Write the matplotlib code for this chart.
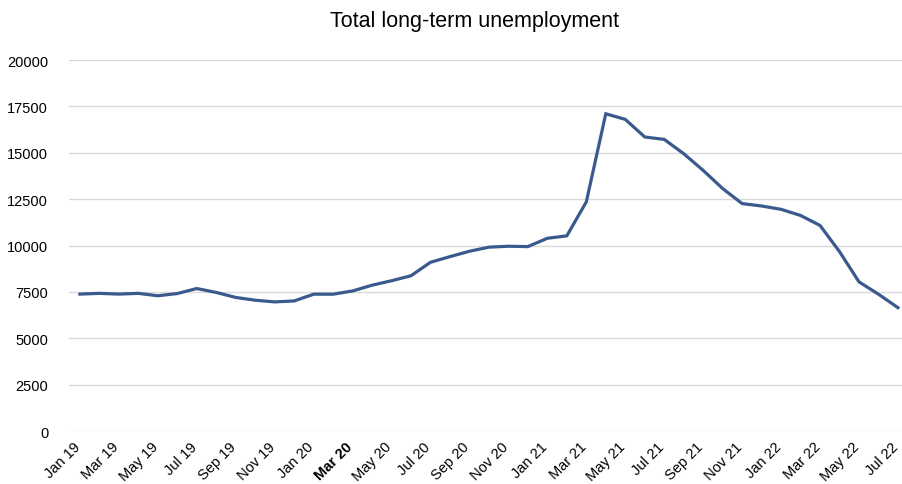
import matplotlib
matplotlib.use('Agg')
import matplotlib.pyplot as plt
from matplotlib.transforms import ScaledTranslation

plt.rcParams['font.family'] = ['Liberation Sans', 'DejaVu Sans']

# monthly totals, Jan 2019 .. Jul 2022
months = ['Jan', 'Feb', 'Mar', 'Apr', 'May', 'Jun',
          'Jul', 'Aug', 'Sep', 'Oct', 'Nov', 'Dec']
labels = [f'{m} {y}' for y in ('19', '20', '21', '22') for m in months][:43]
values = [7380, 7420, 7380, 7420, 7290, 7410, 7680, 7470, 7200, 7050, 6960, 7010,
          7375, 7375, 7550, 7860, 8100, 8370, 9095, 9400, 9690, 9910, 9960, 9940,
          10390, 10520, 12350, 17100, 16800, 15850, 15720, 14950, 14050, 13070, 12260, 12130,
          11950, 11620, 11080, 9670, 8040, 7375, 6650]
highlight = 'Mar 20'

fig = plt.figure(figsize=(9.03, 4.85), dpi=100)
ax = fig.add_axes([69 / 903, 1 - 432 / 485, 834 / 903, 371 / 485])

x = list(range(len(values)))
ax.plot(x, values, color='#3A5A8E', linewidth=2.3, solid_joinstyle='miter')

ax.set_xlim(-0.56, 42.26)
ax.set_ylim(0, 20000)
ax.set_yticks(range(0, 20001, 2500))
ax.grid(axis='y', color='#D9D9D9', linewidth=1)
ax.set_axisbelow(True)
for s in ax.spines.values():
    s.set_visible(False)

ticks = x[::2]
ax.set_xticks(ticks)
ax.set_xticklabels([labels[i] for i in ticks], rotation=45, ha='right',
                   rotation_mode='anchor', fontsize=10.5)
ax.tick_params(axis='both', length=0, labelsize=10.5, colors='#000000')
ax.tick_params(axis='x', pad=6)
ax.tick_params(axis='y', pad=15)

# nudge the rotated labels left so the last one stays inside the figure
# (after tick_params, which would reset the label transforms)
shift = ScaledTranslation(-7 / 100, 0, fig.dpi_scale_trans)
for t in ax.get_xticklabels():
    t.set_transform(t.get_transform() + shift)
    if t.get_text() == highlight:
        t.set_fontweight('bold')

fig.text(0.525, 1 - 22 / 485, 'Total long-term unemployment', ha='center', va='center',
         fontsize=15.5)

fig.savefig('out.png', dpi=100)
